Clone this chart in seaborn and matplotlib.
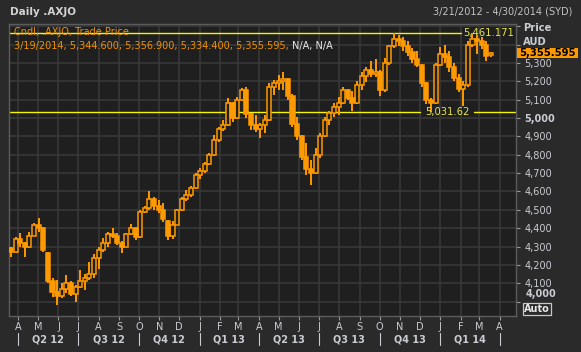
import numpy as np
import pandas as pd
import matplotlib
matplotlib.use("Agg")
import matplotlib.pyplot as plt
import matplotlib.dates as mdates
from matplotlib.ticker import FixedLocator, FuncFormatter
from matplotlib.patches import Rectangle
import seaborn as sns

# ---------------- data (weekly readings of the daily candle band) ----------------
week_dates = pd.date_range("2012-03-21", periods=105, freq="7D")
opens = [4290, 4270, 4340, 4320, 4300, 4360, 4420, 4400, 4265, 4110,
         4050, 4030, 4070, 4100, 4040, 4080, 4110, 4130, 4150, 4240,
         4280, 4320, 4370, 4360, 4320, 4300, 4370, 4400, 4350, 4490,
         4510, 4560, 4520, 4500, 4440, 4360, 4420, 4500, 4560, 4580,
         4620, 4690, 4710, 4750, 4800, 4880, 4940, 4960, 5080, 5000,
         5100, 5150, 5020, 4960, 4940, 4960, 4990, 5170, 5190, 5200,
         5210, 5120, 4970, 4900, 4790, 4720, 4700, 4800, 4900, 4990,
         5030, 5060, 5080, 5150, 5110, 5080, 5180, 5230, 5260, 5240,
         5250, 5150, 5300, 5390, 5430, 5420, 5390, 5360, 5320, 5290,
         5190, 5100, 5080, 5290, 5350, 5330, 5280, 5220, 5160, 5180,
         5400, 5430, 5420, 5400, 5344.6]
highs = [4298, 4352, 4374, 4325, 4380, 4428, 4455, 4405, 4270, 4129,
         4118, 4101, 4145, 4110, 4090, 4172, 4150, 4216, 4260, 4298,
         4347, 4380, 4400, 4374, 4330, 4374, 4423, 4405, 4499, 4520,
         4600, 4570, 4553, 4537, 4445, 4440, 4505, 4570, 4610, 4630,
         4700, 4730, 4760, 4809, 4907, 4951, 4989, 5109, 5085, 5114,
         5163, 5170, 5027, 5016, 4973, 5016, 5190, 5207, 5234, 5250,
         5220, 5130, 5005, 4907, 4864, 4770, 4837, 4918, 5005, 5040,
         5080, 5114, 5168, 5160, 5147, 5201, 5250, 5280, 5310, 5321,
         5260, 5327, 5400, 5461, 5450, 5441, 5420, 5380, 5365, 5294,
         5195, 5110, 5300, 5387, 5400, 5365, 5300, 5240, 5200, 5420,
         5461, 5450, 5441, 5420, 5356.9]
lows = [4243, 4265, 4300, 4243, 4290, 4355, 4380, 4270, 4100, 4025,
        3982, 4020, 4047, 4030, 3998, 4075, 4063, 4118, 4130, 4180,
        4270, 4300, 4347, 4310, 4265, 4295, 4365, 4336, 4345, 4483,
        4500, 4500, 4483, 4434, 4336, 4340, 4417, 4495, 4550, 4570,
        4615, 4670, 4700, 4745, 4795, 4870, 4930, 4955, 4978, 4995,
        5090, 5000, 4935, 4924, 4891, 4918, 4985, 5125, 5150, 5152,
        5100, 4950, 4880, 4771, 4690, 4635, 4695, 4780, 4895, 4962,
        5005, 5016, 5075, 5098, 5038, 5075, 5150, 5196, 5223, 5223,
        5120, 5140, 5290, 5380, 5390, 5365, 5338, 5300, 5278, 5169,
        5076, 5032, 5075, 5285, 5300, 5250, 5200, 5140, 5065, 5170,
        5387, 5350, 5376, 5310, 5334.4]
closes = [4270, 4340, 4320, 4300, 4360, 4420, 4400, 4280, 4110, 4050,
          4030, 4070, 4100, 4040, 4080, 4110, 4130, 4150, 4240, 4280,
          4320, 4370, 4360, 4320, 4300, 4370, 4400, 4350, 4490, 4510,
          4560, 4520, 4500, 4450, 4360, 4420, 4500, 4560, 4580, 4620,
          4690, 4710, 4750, 4800, 4880, 4940, 4960, 5080, 5000, 5100,
          5150, 5020, 4960, 4940, 4960, 4990, 5170, 5190, 5200, 5210,
          5120, 4970, 4900, 4790, 4720, 4700, 4800, 4900, 4990, 5030,
          5060, 5080, 5150, 5110, 5080, 5180, 5230, 5260, 5240, 5250,
          5150, 5300, 5390, 5430, 5420, 5390, 5360, 5320, 5290, 5190,
          5100, 5080, 5290, 5350, 5330, 5280, 5220, 5160, 5180, 5400,
          5430, 5420, 5400, 5340, 5355.595]

ref_high = 5461.171
ref_low = 5031.62
y_ticks = [4000, 4100, 4200, 4300, 4400, 4500, 4600, 4700, 4800, 4900,
           5000, 5100, 5200, 5300, 5400, 5500]
quarter_labels = ["Q2 12", "Q3 12", "Q4 12", "Q1 13", "Q2 13", "Q3 13", "Q4 13", "Q1 14"]
quarter_starts = ["2012-04-01", "2012-07-01", "2012-10-01", "2013-01-01", "2013-04-01",
                  "2013-07-01", "2013-10-01", "2014-01-01", "2014-04-01"]

df = pd.DataFrame({"date": week_dates, "open": opens, "high": highs,
                   "low": lows, "close": closes})

# ---------------- style ----------------
FIG_BG = "#2a2a2a"
AX_BG = "#1f1f1f"
GRID = "#383838"
ORANGE = "#ff9900"
TXT = "#c9ccd2"
YEL = "#f5f500"

sns.set_theme(style="dark", rc={"axes.facecolor": AX_BG, "figure.facecolor": FIG_BG})
plt.rcParams["font.family"] = ["DejaVu Sans"]

W, H = 581, 352
fig = plt.figure(figsize=(W / 100, H / 100), dpi=100)
fig.patch.set_facecolor(FIG_BG)
ax = fig.add_axes([9 / W, 36 / H, 507 / W, 292 / H])
ax.set_facecolor(AX_BG)

def fx(px):
    return px / W

def fy(py):
    return 1 - py / H

# ---------------- candles ----------------
xd = mdates.date2num(df["date"])
up = df["close"] >= df["open"]
ax.vlines(xd, df["low"], df["high"], color=ORANGE, lw=1.4, zorder=3)
body_lo = np.minimum(df["open"], df["close"])
body_h = np.abs(df["close"] - df["open"])
ax.bar(xd[up], body_h[up], bottom=body_lo[up], width=6.2, color=AX_BG,
       edgecolor=ORANGE, linewidth=1.1, zorder=4)
ax.bar(xd[~up], body_h[~up], bottom=body_lo[~up], width=6.2, color=ORANGE,
       edgecolor=ORANGE, linewidth=1.1, zorder=4)

# ---------------- axes ----------------
ax.set_xlim(mdates.datestr2num("2012-03-18"), mdates.datestr2num("2014-04-26"))
ax.set_ylim(3922, 5512)

ax.xaxis.set_major_locator(mdates.MonthLocator())
ax.xaxis.set_major_formatter(FuncFormatter(lambda v, p: mdates.num2date(v).strftime("%b")[0]))
ax.yaxis.set_major_locator(FixedLocator(y_ticks))
ax.yaxis.tick_right()

def yfmt(v, p):
    if v in (4000, 5400, 5500):
        return ""
    return f"{int(v):,}"

ax.yaxis.set_major_formatter(FuncFormatter(yfmt))
ax.tick_params(axis="x", colors=TXT, labelsize=7, length=3, width=0.8, pad=1.5,
               direction="out", bottom=True, color="#9a9a9a")
ax.tick_params(axis="y", colors=TXT, labelsize=7, length=3, width=0.8, pad=3,
               direction="out", right=True, left=False, color="#9a9a9a")
for lab in ax.get_yticklabels():
    if lab.get_text() == "5,000":
        lab.set_fontweight("bold")
ax.grid(True, color=GRID, lw=1.2)
for s in ax.spines.values():
    s.set_color("#5c5c5c")
    s.set_linewidth(1.0)

# reference lines
x_end_hi = (461 - 9) / 507
ax.axhline(ref_high, xmin=0, xmax=x_end_hi, color=YEL, lw=1.0, zorder=2)
ax.text((463 - 9) / 507, ref_high, f"{ref_high:,.3f}", transform=ax.get_yaxis_transform(),
        color="#e6e645", fontsize=7.2, va="center", ha="left", zorder=2)
ax.axhline(ref_low, xmin=0, xmax=(420 - 9) / 507, color=YEL, lw=1.0, zorder=2)
ax.axhline(ref_low, xmin=(474 - 9) / 507, xmax=1, color=YEL, lw=1.0, zorder=2)
ax.text((447 - 9) / 507, ref_low, f"{ref_low:,.2f}", transform=ax.get_yaxis_transform(),
        color="#e6e645", fontsize=7.2, va="center", ha="center", zorder=5)

# ---------------- header texts ----------------
fig.text(fx(10), fy(12), "Daily .AXJO", color="#d2d2d2", fontsize=7.5,
         fontweight="bold", va="center", ha="left")
fig.text(fx(572), fy(12), "3/21/2012 - 4/30/2014 (SYD)", color="#c2c2c2",
         fontsize=7, va="center", ha="right")

t1 = fig.text(fx(14), fy(32), "Cndl, .AXJO, Trade Price", color="#f09000",
              fontsize=7, va="center", ha="left")
t2 = fig.text(fx(14), fy(46), "3/19/2014, 5,344.600, 5,356.900, 5,334.400, 5,355.595, ",
              color="#f09000", fontsize=7, va="center", ha="left")
fig.canvas.draw()
bb = t2.get_window_extent()
fig.text(bb.x1 / W, fy(46), "N/A, N/A", color="#e8e8e8", fontsize=7, va="center", ha="left")

# right side labels
fig.text(fx(523), fy(28), "Price", color=TXT, fontsize=7.2, fontweight="bold", va="center")
fig.text(fx(523), fy(42), "AUD", color=TXT, fontsize=7.2, fontweight="bold", va="center")
fig.patches.append(Rectangle((fx(517), fy(58)), (578 - 517) / W, 10 / H,
                             transform=fig.transFigure, facecolor="#ff9900",
                             edgecolor="none", zorder=5))
fig.text(fx(547.5), fy(53), f"{closes[-1]:,.3f}", color="black", fontsize=7.2,
         fontweight="bold", va="center", ha="center", zorder=6)
fig.text(fx(526), fy(294), "4,000", color=TXT, fontsize=7, fontweight="bold",
         va="center", ha="left")
fig.patches.append(Rectangle((fx(523), fy(315)), 28 / W, 12 / H,
                             transform=fig.transFigure, facecolor="none",
                             edgecolor="#c8c8c8", linewidth=0.9))
fig.text(fx(537), fy(309), "Auto", color="#e8e8e8", fontsize=7, fontweight="bold",
         va="center", ha="center")

# quarter row
btrans = matplotlib.transforms.blended_transform_factory(ax.transData, fig.transFigure)
qs = mdates.datestr2num(quarter_starts)
for q in qs:
    ax.add_line(matplotlib.lines.Line2D([q, q], [fy(333), fy(345)], transform=btrans,
                                        color=TXT, lw=0.8, clip_on=False))
for i, lab in enumerate(quarter_labels):
    mid = (qs[i] + qs[i + 1]) / 2
    fig.text(0, fy(339), lab, transform=btrans, color=TXT, fontsize=7,
             fontweight="bold", va="center", ha="center")
    fig.texts[-1].set_x(mid)

fig.savefig("out.png", dpi=100, facecolor=FIG_BG)
